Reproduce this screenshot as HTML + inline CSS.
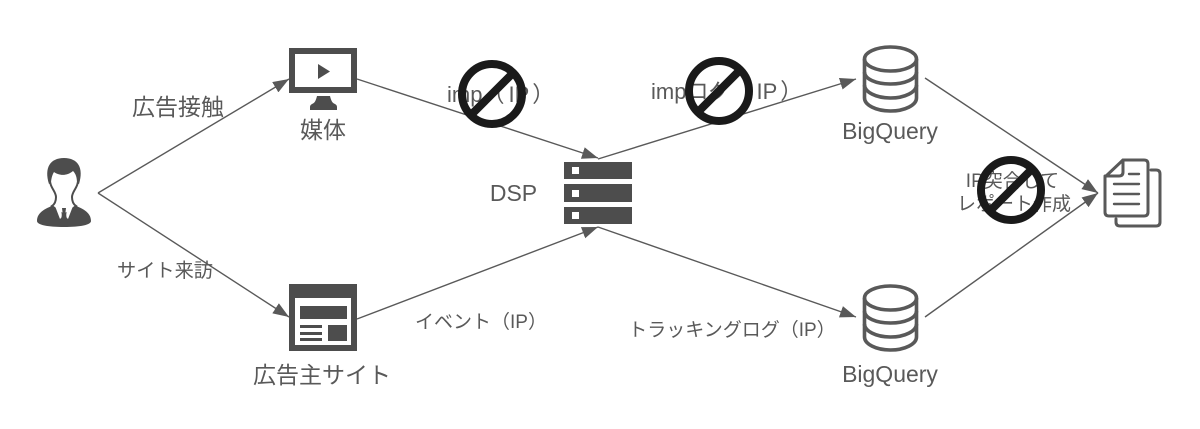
<!DOCTYPE html>
<html><head><meta charset="utf-8"><style>
html,body{margin:0;padding:0;background:#fff;width:1200px;height:429px;overflow:hidden}
svg{display:block}
text{font-family:"Liberation Sans","Noto Sans CJK JP",sans-serif;fill:#595959;text-anchor:middle}
</style></head><body>
<svg width="1200" height="429" viewBox="0 0 1200 429" xmlns="http://www.w3.org/2000/svg">
<defs><marker id="a" markerUnits="userSpaceOnUse" markerWidth="18" markerHeight="12" refX="16" refY="6" orient="auto"><path d="M0 0L16 6L0 12Z" fill="#595959"/></marker></defs>
<g fill="none" stroke="#595959" stroke-width="1.4">
<path d="M98 193L289 79" marker-end="url(#a)"/>
<path d="M98 193L289 317" marker-end="url(#a)"/>
<path d="M357 79L598 158" marker-end="url(#a)"/>
<path d="M357 319L598 227" marker-end="url(#a)"/>
<path d="M598 159L856 79" marker-end="url(#a)"/>
<path d="M598 227L856 317" marker-end="url(#a)"/>
<path d="M925 78L1098 193" marker-end="url(#a)"/>
<path d="M925 317L1098 193" marker-end="url(#a)"/>
</g>
<!-- person -->
<path d="M37 221C37 212 46 208 57 204L64 206L71 204C82 208 91 212 91 221C91 225 80 227 64 227C48 227 37 225 37 221Z" fill="#4d4d4d"/>
<path d="M50 178C49 187 56 191 56 197C56 201 55 204 52 206L64 215L76 206C73 204 72 201 72 197C72 191 79 187 78 178L76 168H52Z" fill="#fff" stroke="#4d4d4d" stroke-width="2"/>
<path d="M49 184C44 168 50 158 64 158C78 158 84 168 79 184L77 183C77 178 76 174 73 171C66 177 58 175 54 172C52 175 51 180 51 183Z" fill="#4d4d4d"/>
<path d="M55 206L61 208L62 217L60 219ZM73 206L67 208L66 217L68 219Z" fill="#fff"/>
<path d="M62 208H66L65.500 212L67.500 222L64 226L60.500 222L62.500 212Z" fill="#4d4d4d"/>
<!-- monitor -->
<rect x="292" y="51" width="62" height="39" fill="#fff" stroke="#4d4d4d" stroke-width="6"/>
<path d="M318 64L330 71.500L318 79Z" fill="#4d4d4d"/>
<path d="M317 96H330C331 100 332 103 335 104Q337 105 337 107V110H310V107Q310 105 312 104C315 103 316 100 317 96Z" fill="#4d4d4d"/>
<!-- site -->
<rect x="289" y="284" width="68" height="67" fill="#4d4d4d"/>
<rect x="295" y="298" width="56" height="47" fill="#fff"/>
<rect x="300" y="306" width="47" height="13" fill="#4d4d4d"/>
<rect x="328" y="325" width="19" height="16" fill="#4d4d4d"/>
<rect x="300" y="325" width="22" height="3" fill="#4d4d4d"/>
<rect x="300" y="332" width="22" height="3" fill="#4d4d4d"/>
<rect x="300" y="338" width="22" height="3" fill="#4d4d4d"/>
<!-- server -->
<g fill="#4d4d4d"><rect x="564" y="162" width="68" height="17"/><rect x="564" y="184" width="68" height="18"/><rect x="564" y="207" width="68" height="17"/></g>
<g fill="#fff"><rect x="572" y="167" width="7" height="7"/><rect x="572" y="190" width="7" height="7"/><rect x="572" y="212" width="7" height="7"/></g>
<!-- db -->
<g id="db" fill="none" stroke="#595959" stroke-width="3.600">
<ellipse cx="890.500" cy="59" rx="26" ry="12"/>
<path d="M864.500 59V98C864.500 105 876 111 890.500 111C905 111 916.500 105 916.500 98V59"/>
<path d="M864.500 72C864.500 79 876 84 890.500 84C905 84 916.500 79 916.500 72"/>
<path d="M864.500 85C864.500 92 876 98 890.500 98C905 98 916.500 92 916.500 85"/>
</g>
<use href="#db" y="239"/>
<!-- doc -->
<g fill="none" stroke="#595959" stroke-width="3" stroke-linejoin="round" stroke-linecap="round">
<path d="M1123 160H1144Q1148 160 1148 164V212Q1148 216 1144 216H1109Q1105 216 1105 212V177Z"/>
<path d="M1123 160V172Q1123 176 1119 176H1105"/>
<path d="M1151 170H1156Q1160 170 1160 174V222Q1160 226 1156 226H1120Q1116 226 1116 222V219"/>
<path d="M1129 174H1139M1114 184H1139M1114 194H1139M1114 204H1139" stroke-width="2.400"/>
</g>
<!-- labels -->
<text x="178" y="115" font-size="23">広告接触</text>
<text x="323" y="138" font-size="23">媒体</text>
<text x="165" y="277" font-size="19.200">サイト来訪</text>
<text x="322" y="383" font-size="23">広告主サイト</text>
<text x="513.500" y="201" font-size="23">DSP</text>
<text x="447" y="102" font-size="22" style="text-anchor:start">imp（<tspan dx="4">IP</tspan><tspan dx="3">）</tspan></text>
<text x="651" y="99" font-size="22" style="text-anchor:start">impログ（<tspan dx="4">IP</tspan><tspan dx="3">）</tspan></text>
<text x="481" y="328" font-size="19">イベント（IP）</text>
<text x="732" y="336" font-size="19">トラッキングログ（IP）</text>
<text x="890" y="139" font-size="23">BigQuery</text>
<text x="890" y="382" font-size="23">BigQuery</text>
<text x="1012.500" y="187" font-size="19">IP突合して</text>
<text x="1014" y="210" font-size="19">レポート作成</text>
<!-- prohibited -->
<g fill="none" stroke="#1a1a1a" stroke-width="8">
<circle cx="492" cy="94" r="30"/><path d="M471 115L513 73"/>
<circle cx="719" cy="91" r="30"/><path d="M698 112L740 70"/>
<circle cx="1011" cy="190" r="30"/><path d="M990 211L1032 169"/>
</g>
</svg>
</body></html>
